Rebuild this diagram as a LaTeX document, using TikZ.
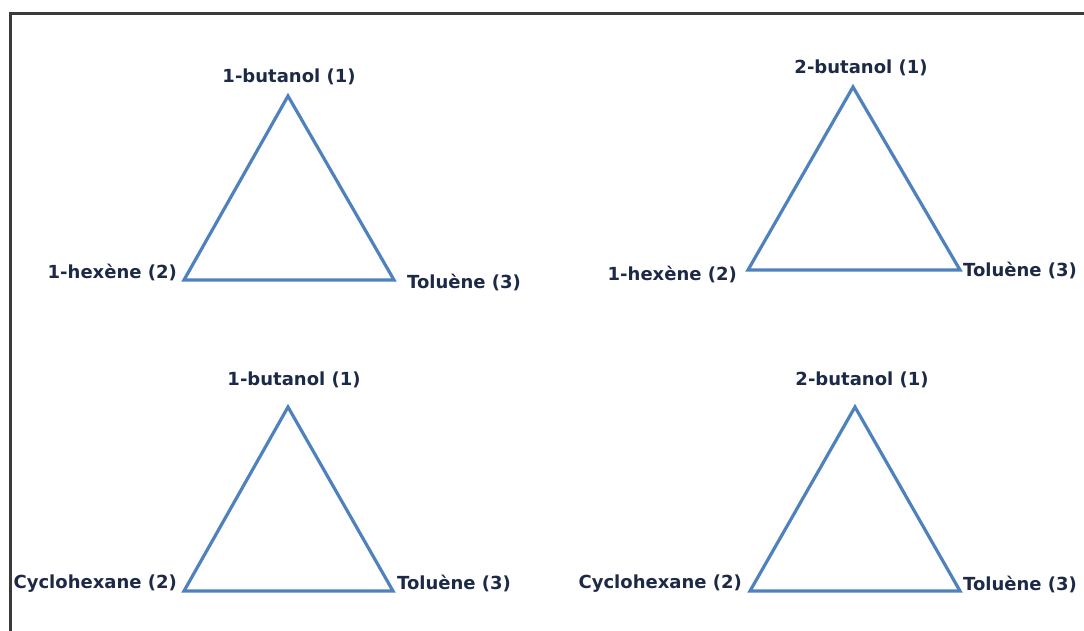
\documentclass[tikz,border=0pt]{standalone}
\usepackage{fontspec}
\setmainfont{DejaVu Sans}
\definecolor{triblue}{HTML}{4F81BD}
\definecolor{labtext}{HTML}{1C2A48}
\definecolor{framegray}{HTML}{3A3A3A}
\begin{document}
\begin{tikzpicture}[x=1pt,y=-1pt,
  tri/.style={draw=triblue,line width=3.2pt,line join=miter},
  lab/.style={inner sep=0pt,text=labtext,font=\fontsize{18}{20}\selectfont\bfseries},
  frameline/.style={draw=framegray,line width=2.4pt}]
\useasboundingbox (0,0) rectangle (1084,631);
% frame (only top and left edges visible)
\coordinate (fr1) at (1084,13.5);
\coordinate (fr2) at (10.5,13.5);
\coordinate (fr3) at (10.5,631);
\draw[frameline] (fr1) -- (fr2) -- (fr3);
% triangle 1
\coordinate (a1) at (288,96);
\coordinate (l1) at (184,280);
\coordinate (r1) at (394,280);
\draw[tri] (a1) -- (l1) -- (r1) -- cycle;
\node[lab] (t1) at (289,77) {1-butanol (1)};
\node[lab,anchor=east] (t1l) at (177,272) {1-hexène (2)};
\node[lab,anchor=west] (t1r) at (407,282) {Toluène (3)};
% triangle 2
\coordinate (a2) at (853,87);
\coordinate (l2) at (748,270);
\coordinate (r2) at (960,270);
\draw[tri] (a2) -- (l2) -- (r2) -- cycle;
\node[lab] (t2) at (861,68) {2-butanol (1)};
\node[lab,anchor=east] (t2l) at (737,274) {1-hexène (2)};
\node[lab,anchor=west] (t2r) at (963,270) {Toluène (3)};
% triangle 3
\coordinate (a3) at (288,407);
\coordinate (l3) at (184,591);
\coordinate (r3) at (393,591);
\draw[tri] (a3) -- (l3) -- (r3) -- cycle;
\node[lab] (t3) at (294,380) {1-butanol (1)};
\node[lab,anchor=east] (t3l) at (177,584) {Cyclohexane (2)};
\node[lab,anchor=west] (t3r) at (397,583) {Toluène (3)};
% triangle 4
\coordinate (a4) at (855,407);
\coordinate (l4) at (750,591);
\coordinate (r4) at (960,591);
\draw[tri] (a4) -- (l4) -- (r4) -- cycle;
\node[lab] (t4) at (862,380) {2-butanol (1)};
\node[lab,anchor=east] (t4l) at (742,584) {Cyclohexane (2)};
\node[lab,anchor=west] (t4r) at (963,584) {Toluène (3)};
\end{tikzpicture}
\end{document}
